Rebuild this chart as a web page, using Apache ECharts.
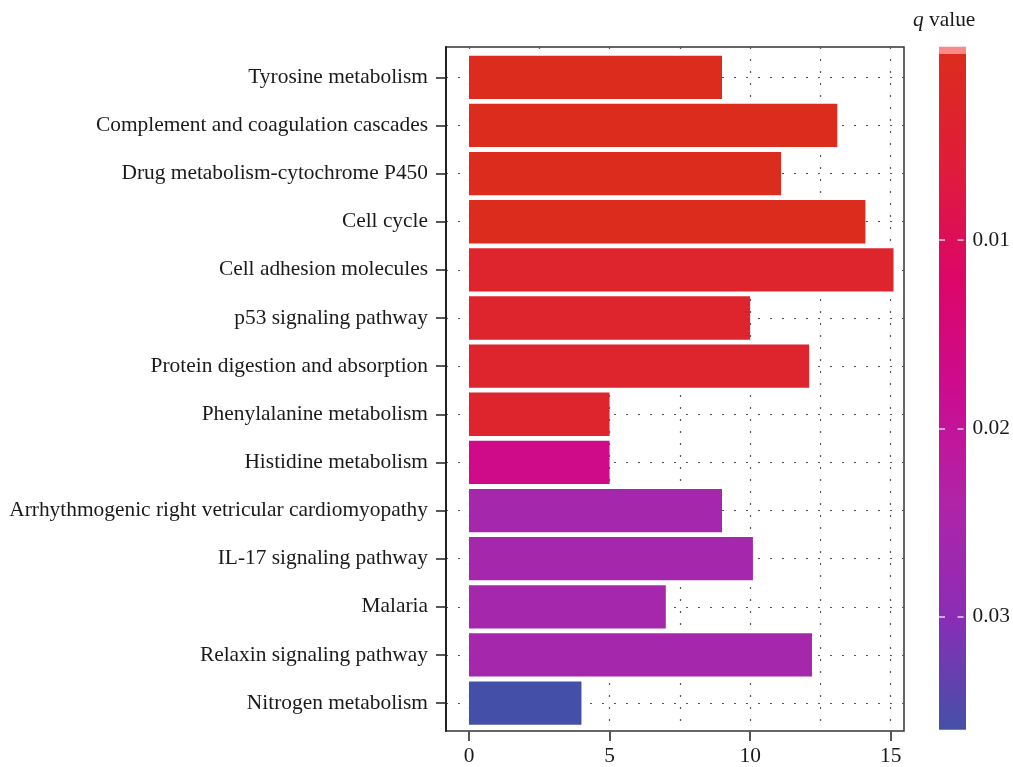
<!DOCTYPE html>
<html>
<head>
<meta charset="utf-8">
<script src="https://cdn.jsdelivr.net/npm/echarts@6/dist/echarts.min.js"></script>
<style>
  html, body { margin: 0; padding: 0; background: #fff; }
  #chart { width: 1013px; height: 767px; }
</style>
</head>
<body>
<div id="chart"></div>
<script>
// KEGG pathway enrichment: gene count per pathway, coloured by q value
const categories = [
  'Tyrosine metabolism',
  'Complement and coagulation cascades',
  'Drug metabolism-cytochrome P450',
  'Cell cycle',
  'Cell adhesion molecules',
  'p53 signaling pathway',
  'Protein digestion and absorption',
  'Phenylalanine metabolism',
  'Histidine metabolism',
  'Arrhythmogenic right vetricular cardiomyopathy',
  'IL-17 signaling pathway',
  'Malaria',
  'Relaxin signaling pathway',
  'Nitrogen metabolism'
];
const geneCounts = [9, 13.1, 11.1, 14.1, 15.1, 10, 12.1, 5, 5, 9, 10.1, 7, 12.2, 4];
const qValues = [0.0001, 0.0001, 0.0001, 0.0001, 0.003, 0.003, 0.003, 0.003, 0.017, 0.026, 0.026, 0.026, 0.026, 0.036];

const xTickValues = [0, 5, 10, 15];
const xGridValues = [0, 2.5, 5, 7.5, 10, 12.5, 15];
const qTickValues = [0.01, 0.02, 0.03];

// q value colour ramp (evenly spaced from Q_MIN to Q_MAX)
const Q_MIN = 0.0001;
const Q_MAX = 0.036;
const qColors = ['#DC2C1E', '#E01C3A', '#DC0668', '#CC0C90', '#B024A8', '#8A2DB5', '#4450A8'];

const FONT = "'Liberation Serif', 'DejaVu Serif', serif";
const TEXT = '#1a1a1a';
const FS = 21.4;

// panel layout
const FRAME = { left: 446, top: 47, width: 458, height: 684 };
const X_MIN = -0.818, X_MAX = 15.473;
const PAD_TOP = 0.63, PAD_BOTTOM = 0.58;   // discrete axis expansion, in bands
const nCat = categories.length;
const band = FRAME.height / (nCat - 1 + PAD_TOP + PAD_BOTTOM);
const BARS = {
  left: FRAME.left, width: FRAME.width,
  top: FRAME.top + (PAD_TOP - 0.5) * band, height: nCat * band
};
const CBAR = { left: 939, top: 53.7, width: 27, height: 676 };

const dotted = { type: [2, 10], color: '#555', width: 1.2 };
const catIndex = categories.map((_, i) => i);

const chart = echarts.init(document.getElementById('chart'));

chart.setOption({
  animation: false,
  backgroundColor: '#fff',
  title: {
    text: '{q|q} value',
    left: 908, top: 5,
    textStyle: {
      fontFamily: FONT, fontSize: FS, fontWeight: 'normal', color: TEXT,
      rich: { q: { fontFamily: FONT, fontSize: FS, fontStyle: 'italic', color: TEXT } }
    }
  },
  grid: [
    { left: FRAME.left, top: FRAME.top, width: FRAME.width, height: FRAME.height,
      show: true, borderColor: '#333', borderWidth: 1.5, backgroundColor: 'transparent' },
    { left: BARS.left, top: BARS.top, width: BARS.width, height: BARS.height },
    { left: CBAR.left, top: CBAR.top, width: CBAR.width, height: CBAR.height }
  ],
  xAxis: [
    { gridIndex: 0, type: 'value', min: X_MIN, max: X_MAX, position: 'bottom',
      axisLine: { show: false, onZero: false },
      axisTick: { customValues: xTickValues, length: 10, lineStyle: { color: '#555', width: 2 } },
      axisLabel: { customValues: xTickValues, margin: 15, fontFamily: FONT, fontSize: FS, color: TEXT },
      splitLine: { show: false } },
    { gridIndex: 0, type: 'value', min: X_MIN, max: X_MAX, position: 'top',
      axisLine: { show: false, onZero: false },
      axisTick: { show: false, customValues: xGridValues },
      axisLabel: { show: false },
      splitLine: { show: true, lineStyle: dotted } },
    { gridIndex: 1, type: 'value', min: X_MIN, max: X_MAX, show: false, axisLine: { onZero: false } },
    { gridIndex: 2, type: 'value', min: 0, max: 1, show: false, axisLine: { onZero: false } }
  ],
  yAxis: [
    { gridIndex: 0, type: 'value', min: -PAD_TOP, max: nCat - 1 + PAD_BOTTOM, inverse: true,
      axisLine: { show: true, onZero: false, lineStyle: { color: '#222', width: 2 } },
      axisTick: { customValues: catIndex, length: 10, lineStyle: { color: '#222', width: 1.5 } },
      axisLabel: { customValues: catIndex, margin: 18, fontFamily: FONT, fontSize: FS, color: TEXT,
                   formatter: v => categories[Math.round(v)] },
      splitLine: { show: true, lineStyle: dotted } },
    { gridIndex: 1, type: 'category', data: categories, inverse: true, show: false,
      axisLine: { onZero: false } },
    { gridIndex: 2, type: 'value', min: Q_MIN, max: Q_MAX, inverse: true, position: 'left', z: 5,
      axisLine: { show: false, onZero: false },
      axisTick: { inside: true, customValues: qTickValues, length: 6,
                  lineStyle: { color: 'rgba(255,255,255,0.6)', width: 2 } },
      axisLabel: { show: false }, splitLine: { show: false } },
    { gridIndex: 2, type: 'value', min: Q_MIN, max: Q_MAX, inverse: true, position: 'right', z: 5,
      axisLine: { show: false, onZero: false },
      axisTick: { inside: true, customValues: qTickValues, length: 6,
                  lineStyle: { color: 'rgba(255,255,255,0.6)', width: 2 } },
      axisLabel: { customValues: qTickValues, margin: 9, fontFamily: FONT, fontSize: FS, color: TEXT,
                   formatter: v => v.toFixed(2) },
      splitLine: { show: false } }
  ],
  visualMap: [{
    type: 'continuous', show: false, seriesIndex: 0, dimension: 2,
    min: Q_MIN, max: Q_MAX, inRange: { color: qColors }
  }],
  series: [{
    type: 'bar',
    xAxisIndex: 2, yAxisIndex: 1,
    barWidth: '90%',
    silent: true,
    encode: { x: 0, y: 1 },
    data: categories.map((c, i) => [geneCounts[i], c, qValues[i]])
  }]
});

// colour bar for the q value scale, placed on the colour-bar axis
const yTop = chart.convertToPixel({ yAxisIndex: 2 }, Q_MIN);
const yBot = chart.convertToPixel({ yAxisIndex: 2 }, Q_MAX);
chart.setOption({
  graphic: [
    { type: 'rect', z: 1, silent: true,
      shape: { x: CBAR.left, y: yTop - 7, width: CBAR.width, height: 7 },
      style: { fill: '#F98A8A' } },
    { type: 'rect', z: 1, silent: true,
      shape: { x: CBAR.left, y: yTop, width: CBAR.width, height: yBot - yTop },
      style: {
        fill: new echarts.graphic.LinearGradient(0, 0, 0, 1,
          qColors.map((c, i) => ({ offset: i / (qColors.length - 1), color: c })))
      } }
  ]
});
</script>
</body>
</html>
